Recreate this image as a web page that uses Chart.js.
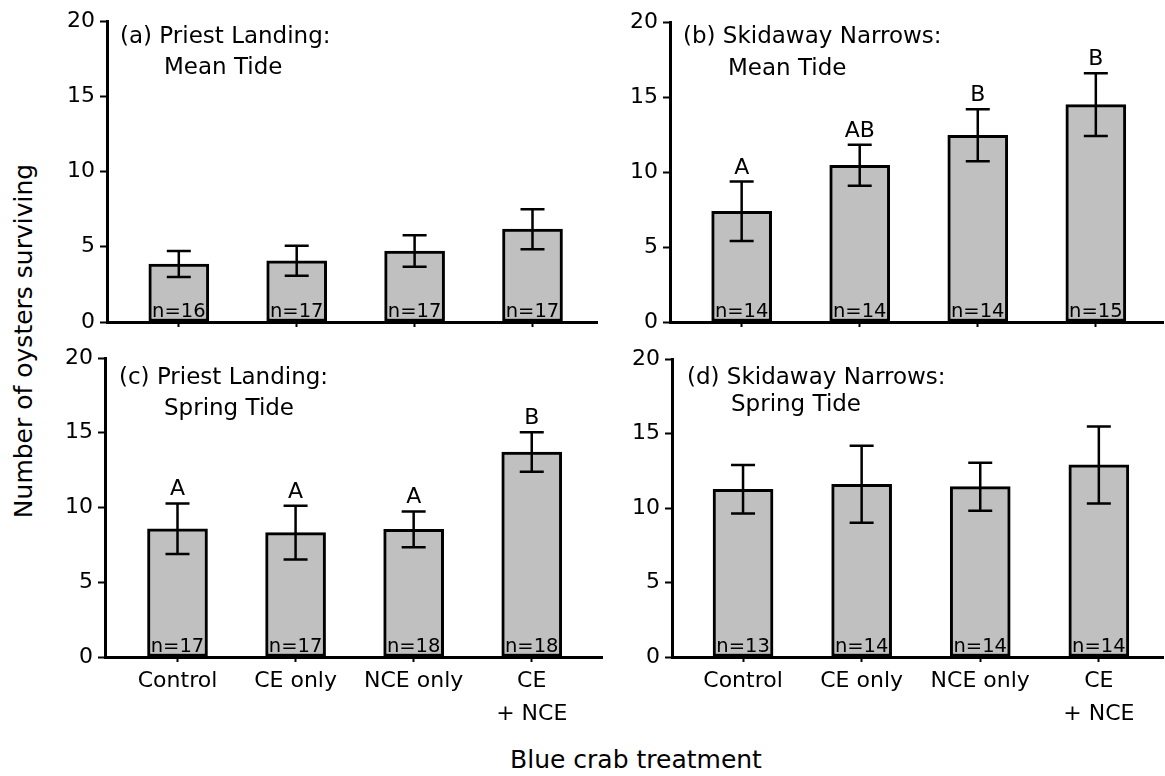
<!DOCTYPE html>
<html>
<head>
<meta charset="utf-8">
<script src="https://cdn.jsdelivr.net/npm/chart.js@4"></script>
<style>
  html, body { margin: 0; padding: 0; background: #fff; }
  #fig { position: relative; width: 1165px; height: 776px; overflow: hidden;
         font-family: 'DejaVu Sans', sans-serif; color: #000; background: #fff; }
  #fig canvas { position: absolute; }
  .ytitle { position: absolute; left: 24px; top: 341px; font-size: 25px; line-height: 30px;
            white-space: nowrap; transform: translate(-50%, -50%) rotate(-90deg); }
  .xtitle { position: absolute; left: 336px; width: 600px; top: 745px; font-size: 25px;
            line-height: 30px; text-align: center; white-space: nowrap; }
</style>
</head>
<body>
<div id="fig">
  <div class="ytitle">Number of oysters surviving</div>
  <div class="xtitle">Blue crab treatment</div>
</div>
<script>
// Treatments on the x axis and the shared y ticks
const categories = ['Control', 'CE only', 'NCE only', ['CE', '+ NCE']];
const yTicks = [0, 5, 10, 15, 20];

// (a) Priest Landing, mean tide
const titleA = ['(a) Priest Landing:', 'Mean Tide'];
const meanA = [3.85, 4.07, 4.72, 6.17];
const seA = [0.86, 1.00, 1.05, 1.33];
const nA = [16, 17, 17, 17];

// (b) Skidaway Narrows, mean tide
const titleB = ['(b) Skidaway Narrows:', 'Mean Tide'];
const meanB = [7.38, 10.45, 12.45, 14.49];
const seB = [1.98, 1.37, 1.73, 2.09];
const nB = [14, 14, 14, 15];
const lettersB = ['A', 'AB', 'B', 'B'];

// (c) Priest Landing, spring tide
const titleC = ['(c) Priest Landing:', 'Spring Tide'];
const meanC = [8.58, 8.32, 8.54, 13.71];
const seC = [1.69, 1.80, 1.20, 1.32];
const nC = [17, 17, 18, 18];
const lettersC = ['A', 'A', 'A', 'B'];

// (d) Skidaway Narrows, spring tide
const titleD = ['(d) Skidaway Narrows:', 'Spring Tide'];
const meanD = [11.26, 11.59, 11.43, 12.89];
const seD = [1.63, 2.58, 1.61, 2.58];
const nD = [13, 14, 14, 14];

const FONT = "'DejaVu Sans', sans-serif";
Chart.defaults.font.family = FONT;
Chart.defaults.color = '#000';

const Y_AXIS_W = 70;   // width reserved for the y axis
const PAD_TOP = 20;

const panels = [
  { title: titleA, means: meanA, se: seA, n: nA, letters: null,
    plotLeft: 107, plotTop: 21, plotW: 490, plotH: 301, axisH: 20, padRight: 3,
    xMin: 0.391, xMax: 4.547, showLabels: false, titlePos: [13, 22, 57, 53] },
  { title: titleB, means: meanB, se: seB, n: nB, letters: lettersB,
    plotLeft: 670, plotTop: 22, plotW: 493, plotH: 300, axisH: 20, padRight: 2,
    xMin: 0.393, xMax: 4.569, showLabels: false, titlePos: [13, 21, 58, 53] },
  { title: titleC, means: meanC, se: seC, n: nC, letters: lettersC,
    plotLeft: 105, plotTop: 358, plotW: 497, plotH: 299, axisH: 100, padRight: 3,
    xMin: 0.386, xMax: 4.595, showLabels: true, titlePos: [14, 26, 59, 57] },
  { title: titleD, means: meanD, se: seD, n: nD, letters: null,
    plotLeft: 672, plotTop: 359, plotW: 491, plotH: 298, axisH: 100, padRight: 2,
    xMin: 0.401, xMax: 4.541, showLabels: true, titlePos: [15, 25, 59, 52] }
];

// Error bars, sample sizes, significance letters and the panel heading
function annotate(p) {
  return {
    id: 'annotate',
    afterDatasetsDraw(chart) {
      const ctx = chart.ctx;
      const ys = chart.scales.y;
      const area = chart.chartArea;
      const bars = chart.getDatasetMeta(0).data;
      ctx.save();
      ctx.strokeStyle = '#000';
      ctx.fillStyle = '#000';
      ctx.lineWidth = 2.5;
      p.means.forEach((m, i) => {
        const x = bars[i].x;
        const hi = ys.getPixelForValue(m + p.se[i]);
        const lo = ys.getPixelForValue(m - p.se[i]);
        ctx.beginPath();
        ctx.moveTo(x, hi); ctx.lineTo(x, lo);
        ctx.moveTo(x - 12, hi); ctx.lineTo(x + 12, hi);
        ctx.moveTo(x - 12, lo); ctx.lineTo(x + 12, lo);
        ctx.stroke();

        ctx.textAlign = 'center';
        ctx.textBaseline = 'alphabetic';
        ctx.font = '19.5px ' + FONT;
        ctx.fillText('n=' + p.n[i], x, ys.getPixelForValue(0) - 5);
        if (p.letters) {
          ctx.font = '22px ' + FONT;
          ctx.fillText(p.letters[i], x, hi - 8);
        }
      });
      ctx.textAlign = 'left';
      ctx.textBaseline = 'alphabetic';
      ctx.font = '23px ' + FONT;
      ctx.fillText(p.title[0], area.left + p.titlePos[0], area.top + p.titlePos[1]);
      ctx.fillText(p.title[1], area.left + p.titlePos[2], area.top + p.titlePos[3]);
      ctx.restore();
    }
  };
}

const fig = document.getElementById('fig');
panels.forEach(p => {
  const w = Y_AXIS_W + p.plotW + p.padRight;
  const h = PAD_TOP + p.plotH + p.axisH;
  const canvas = document.createElement('canvas');
  canvas.width = w; canvas.height = h;
  canvas.style.width = w + 'px'; canvas.style.height = h + 'px';
  canvas.style.left = (p.plotLeft - Y_AXIS_W) + 'px';
  canvas.style.top = (p.plotTop - PAD_TOP) + 'px';
  fig.appendChild(canvas);

  new Chart(canvas, {
    type: 'bar',
    data: {
      datasets: [{
        data: p.means.map((v, i) => ({ x: i + 1, y: v })),
        backgroundColor: '#c0c0c0',
        borderColor: '#000',
        borderWidth: 3,
        borderSkipped: false,
        barThickness: 60
      }]
    },
    options: {
      responsive: false,
      animation: false,
      events: [],
      layout: { padding: { left: 0, top: PAD_TOP, right: p.padRight, bottom: 0 } },
      plugins: { legend: { display: false }, tooltip: { enabled: false } },
      scales: {
        x: {
          type: 'linear',
          min: p.xMin, max: p.xMax,
          offset: false,
          afterBuildTicks: s => { s.ticks = categories.map((_, i) => ({ value: i + 1 })); },
          afterFit: s => { s.height = p.axisH; },
          grid: { display: true, drawOnChartArea: false, drawTicks: true, offset: false,
                  tickLength: 5, tickWidth: 2, tickColor: '#000' },
          border: { display: true, color: '#000', width: 3 },
          ticks: {
            display: p.showLabels,
            color: '#000',
            font: { size: 22, lineHeight: 1.5 },
            padding: 3,
            maxRotation: 0,
            autoSkip: false,
            callback: v => categories[v - 1]
          }
        },
        y: {
          min: 0, max: 20,
          afterBuildTicks: s => { s.ticks = yTicks.map(v => ({ value: v })); },
          afterFit: s => { s.width = Y_AXIS_W; },
          grid: { display: true, drawOnChartArea: false, drawTicks: true,
                  tickLength: 7, tickWidth: 2, tickColor: '#000' },
          border: { display: true, color: '#000', width: 3 },
          ticks: { color: '#000', font: { size: 22 }, padding: 5 }
        }
      }
    },
    plugins: [annotate(p)]
  });
});
</script>
</body>
</html>
